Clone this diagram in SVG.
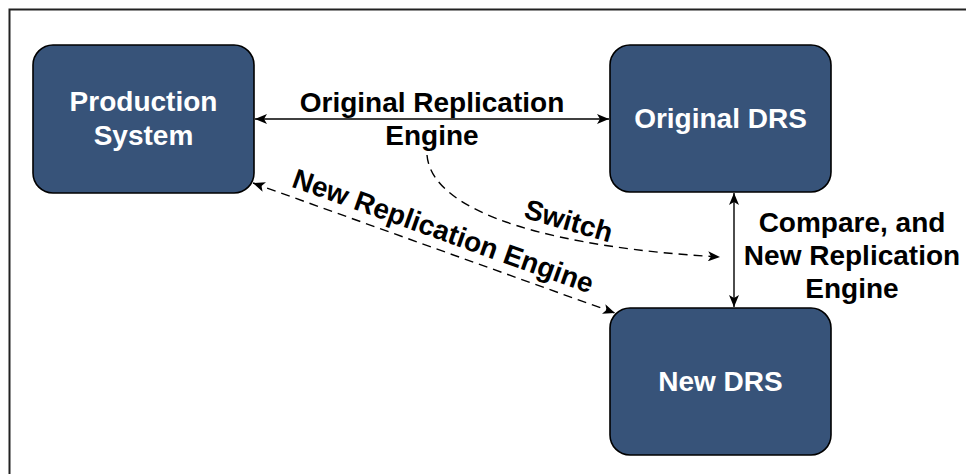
<svg xmlns="http://www.w3.org/2000/svg" width="966" height="474" viewBox="0 0 966 474">
<style>
.box{fill:#375379;stroke:#000;stroke-width:1.6}
.nt{fill:#fff;font-family:"Liberation Sans",Arial,sans-serif;font-weight:bold;font-size:28px;text-anchor:middle}
.lt{fill:#000;font-family:"Liberation Sans",Arial,sans-serif;font-weight:bold;font-size:28px;text-anchor:middle}
.ln{fill:none;stroke:#000;stroke-width:1.4}
.dash{stroke-dasharray:9,6}
</style>
<defs>
<marker id="ah" viewBox="0 0 12 10" refX="12" refY="5" markerWidth="12" markerHeight="10" markerUnits="userSpaceOnUse" orient="auto-start-reverse">
<path d="M0,0 L12,5 L0,10 L3,5 Z" fill="#000"/>
</marker>
</defs>
<rect x="0" y="0" width="966" height="474" fill="#fff"/>
<path d="M9.5,474 V9.5 H966" fill="none" stroke="#222" stroke-width="2"/>
<g id="production-system">
<rect class="box" x="33" y="45" width="221" height="148" rx="20"/>
<text class="nt" x="143.5" y="111">Production</text>
<text class="nt" x="143.5" y="145">System</text>
</g>
<g id="original-drs">
<rect class="box" x="610" y="45" width="221" height="147" rx="20"/>
<text class="nt" x="720.5" y="128">Original DRS</text>
</g>
<g id="new-drs">
<rect class="box" x="610" y="308" width="221" height="147" rx="20"/>
<text class="nt" x="720.5" y="391">New DRS</text>
</g>
<g id="connectors">
<line class="ln" x1="255" y1="119" x2="609" y2="119" marker-start="url(#ah)" marker-end="url(#ah)"/>
<path class="ln dash" d="M427,155 C432,215 560,248 720,257" marker-end="url(#ah)"/>
<line class="ln dash" x1="253" y1="183" x2="615" y2="313" marker-start="url(#ah)" marker-end="url(#ah)"/>
<line class="ln" x1="734" y1="193" x2="734" y2="307" marker-start="url(#ah)" marker-end="url(#ah)"/>
</g>
<g id="labels">
<text class="lt" x="432" y="112">Original Replication</text>
<text class="lt" x="432" y="145">Engine</text>
<text class="lt" transform="translate(566,230) rotate(16)">Switch</text>
<text class="lt" transform="translate(440,240) rotate(19.7)">New Replication Engine</text>
<text class="lt" x="852" y="232">Compare, and</text>
<text class="lt" x="852" y="265">New Replication</text>
<text class="lt" x="852" y="298">Engine</text>
</g>
</svg>
